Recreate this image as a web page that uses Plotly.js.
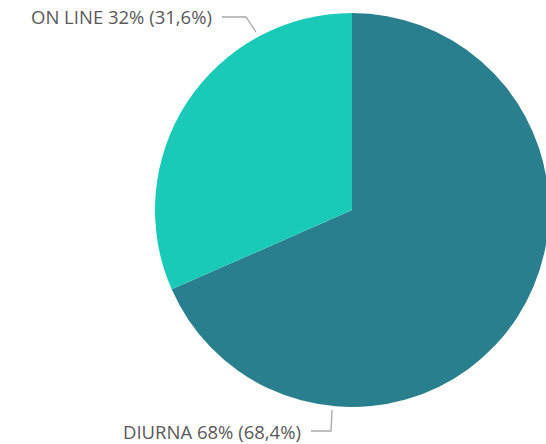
<!DOCTYPE html>
<html><head><meta charset="utf-8">
<script src="https://cdn.plot.ly/plotly-3.0.1.min.js"></script>
<style>html,body{margin:0;padding:0;overflow:hidden;background:#fff}#c{width:552px;height:444px}</style>
</head><body><div id="c"></div>
<script>
const categories = ["DIURNA", "ON LINE"];
const values = [68.4, 31.6];
const roundedLabels = ["68%", "32%"];
const exactLabels = ["68,4%", "31,6%"];
const colors = ["#297F8D", "#19CAB7"];

const W = 552, H = 444;
const px = x => x / W, py = y => 1 - y / H;
const cx = 352, cy = 210, R = 197;

const labelText = categories.map((c, i) => c + " " + roundedLabels[i] + " (" + exactLabels[i] + ")");

const data = [{
  type: "pie",
  labels: categories,
  values: values,
  sort: false,
  direction: "clockwise",
  rotation: 0,
  textinfo: "none",
  hoverinfo: "label+percent",
  marker: {colors: colors, line: {width: 0}},
  domain: {x: [px(cx - R), px(cx + R)], y: [py(cy + R), py(cy - R)]},
  showlegend: false
}];

const font = {family: "Open Sans, sans-serif", size: 18.5, color: "#595959"};
const layout = {
  width: W, height: H,
  margin: {l: 0, r: 0, t: 0, b: 0},
  paper_bgcolor: "#fff",
  showlegend: false,
  annotations: [
    {text: labelText[1], x: px(214), y: py(17), xref: "paper", yref: "paper", xanchor: "right", yanchor: "middle", showarrow: false, font: font},
    {text: labelText[0], x: px(303), y: py(431), xref: "paper", yref: "paper", xanchor: "right", yanchor: "middle", showarrow: false, font: font}
  ],
  shapes: [
    {type: "path", xref: "paper", yref: "paper",
     path: `M ${px(222)} ${py(17)} L ${px(246)} ${py(17)} L ${px(256)} ${py(32)}`,
     line: {color: "#A6A6A6", width: 1.3}},
    {type: "path", xref: "paper", yref: "paper",
     path: `M ${px(311)} ${py(431)} L ${px(331)} ${py(431)} L ${px(332)} ${py(410)}`,
     line: {color: "#A6A6A6", width: 1.3}}
  ]
};
Plotly.newPlot("c", data, layout, {displayModeBar: false, staticPlot: true});
</script></body></html>
